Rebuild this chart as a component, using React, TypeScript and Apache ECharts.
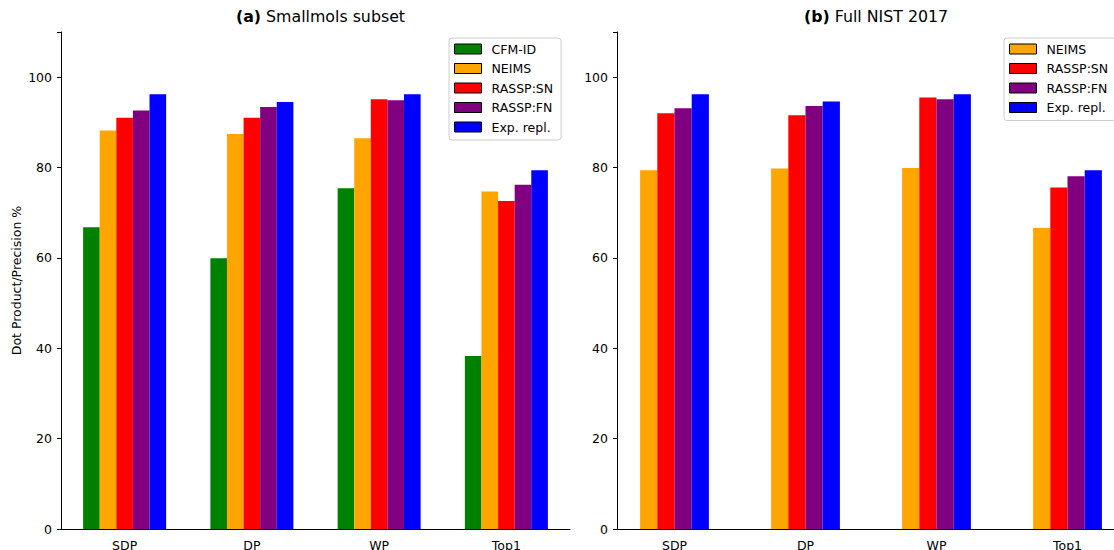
import React, { useEffect, useRef } from "react";
import * as echarts from "echarts";

const categories = ["SDP", "DP", "WP", "Top1"];

const seriesNamesA = ["CFM-ID", "NEIMS", "RASSP:SN", "RASSP:FN", "Exp. repl."];
const seriesNamesB = ["NEIMS", "RASSP:SN", "RASSP:FN", "Exp. repl."];

const cfmA = [66.8, 59.9, 75.4, 38.3];
const neimsA = [88.2, 87.4, 86.5, 74.7];
const snA = [91.0, 91.0, 95.1, 72.6];
const fnA = [92.6, 93.4, 94.9, 76.2];
const expA = [96.2, 94.5, 96.2, 79.4];

const neimsB = [79.4, 79.8, 79.9, 66.6];
const snB = [92.0, 91.6, 95.5, 75.6];
const fnB = [93.1, 93.6, 95.1, 78.1];
const expB = [96.2, 94.6, 96.2, 79.4];

const colors: Record<string, string> = {
  "CFM-ID": "#008000",
  NEIMS: "#FFA500",
  "RASSP:SN": "#FF0000",
  "RASSP:FN": "#800080",
  "Exp. repl.": "#0000FF",
};

const yTicks = { min: 0, max: 110, interval: 20 };

const FONT = "DejaVu Sans";

export default function App() {
  const ref = useRef<HTMLDivElement>(null);

  useEffect(() => {
    if (!ref.current) return;
    const chart = echarts.init(ref.current, undefined, { renderer: "svg" });

    const valuesA = [cfmA, neimsA, snA, fnA, expA];
    const valuesB = [neimsB, snB, fnB, expB];

    const yAxisCommon = {
      type: "value" as const,
      min: yTicks.min,
      max: yTicks.max,
      interval: yTicks.interval,
      axisLine: { show: true, lineStyle: { color: "#000", width: 1 } },
      axisTick: { show: true, length: 4, lineStyle: { color: "#000" } },
      axisLabel: {
        color: "#000",
        fontSize: 12.5,
        fontFamily: FONT,
        margin: 9,
        formatter: (v: number) => (v > 100 ? "" : String(v)),
      },
      splitLine: { show: false },
    };

    const legendCommon = {
      orient: "vertical" as const,
      itemWidth: 27,
      itemHeight: 10,
      itemGap: 5.5,
      padding: [4, 8, 6, 5],
      backgroundColor: "#fff",
      borderColor: "#cccccc",
      borderWidth: 1,
      borderRadius: 3,
      icon: "rect",
      itemStyle: { borderColor: "#000", borderWidth: 1 },
      textStyle: {
        color: "#000",
        fontSize: 12.5,
        fontFamily: FONT,
        lineHeight: 14,
        padding: [0, 0, 0, 5],
      },
    };

    const titleStyle = {
      fontSize: 15.8,
      fontWeight: "normal" as const,
      color: "#000",
      fontFamily: FONT,
      rich: { b: { fontSize: 15.8, fontWeight: "bold" as const, fontFamily: FONT, color: "#000" } },
    };

    chart.setOption({
      animation: false,
      backgroundColor: "#fff",
      textStyle: { fontFamily: FONT },
      title: [
        { text: "{b|(a)} Smallmols subset", left: 315.5, top: 3, textAlign: "center", textStyle: titleStyle },
        { text: "{b|(b)} Full NIST 2017", left: 871, top: 3, textAlign: "center", textStyle: titleStyle },
      ],
      legend: [
        { ...legendCommon, left: 449, top: 38, data: seriesNamesA },
        { ...legendCommon, left: 1004, top: 38, data: seriesNamesB },
      ],
      grid: [
        { left: 61, width: 509, top: 32, height: 497, outerBoundsMode: "none", containLabel: false },
        { left: 609, width: 524, top: 32, height: 497, outerBoundsMode: "none", containLabel: false },
      ],
      xAxis: [
        {
          type: "category",
          gridIndex: 0,
          data: categories,
          axisLine: { show: true, lineStyle: { color: "#000", width: 1 } },
          axisTick: { show: false },
          axisLabel: { color: "#000", fontSize: 12.5, fontFamily: FONT, margin: 10 },
        },
        {
          type: "category",
          gridIndex: 1,
          data: categories,
          axisLine: { show: false },
          axisTick: { show: false },
          axisLabel: { color: "#000", fontSize: 12.5, fontFamily: FONT, margin: 10 },
        },
      ],
      yAxis: [
        {
          ...yAxisCommon,
          gridIndex: 0,
          name: "Dot Product/Precision %",
          nameLocation: "middle",
          nameRotate: 90,
          nameGap: 38,
          nameTextStyle: { color: "#000", fontSize: 12.5, fontFamily: FONT },
        },
        { ...yAxisCommon, gridIndex: 1, offset: -8 },
      ],
      graphic: [
        {
          type: "line",
          shape: { x1: 617, y1: 529.5, x2: 1140, y2: 529.5 },
          style: { stroke: "#000", lineWidth: 1 },
          z: 10,
        },
      ],
      series: [
        ...seriesNamesA.map((name, i) => ({
          name,
          type: "bar",
          xAxisIndex: 0,
          yAxisIndex: 0,
          data: valuesA[i],
          barWidth: 16.6,
          barGap: "0%",
          itemStyle: { color: colors[name] },
        })),
        ...seriesNamesB.map((name, i) => ({
          name,
          type: "bar",
          xAxisIndex: 1,
          yAxisIndex: 1,
          data: valuesB[i],
          barWidth: 17.2,
          barGap: "0%",
          itemStyle: { color: colors[name] },
        })),
      ],
    });

    return () => chart.dispose();
  }, []);

  return (
    <div
      style={{
        position: "fixed",
        left: 0,
        top: 0,
        width: 1114,
        height: 550,
        overflow: "hidden",
      }}
    >
      <div ref={ref} style={{ width: 1150, height: 550 }} />
    </div>
  );
}
